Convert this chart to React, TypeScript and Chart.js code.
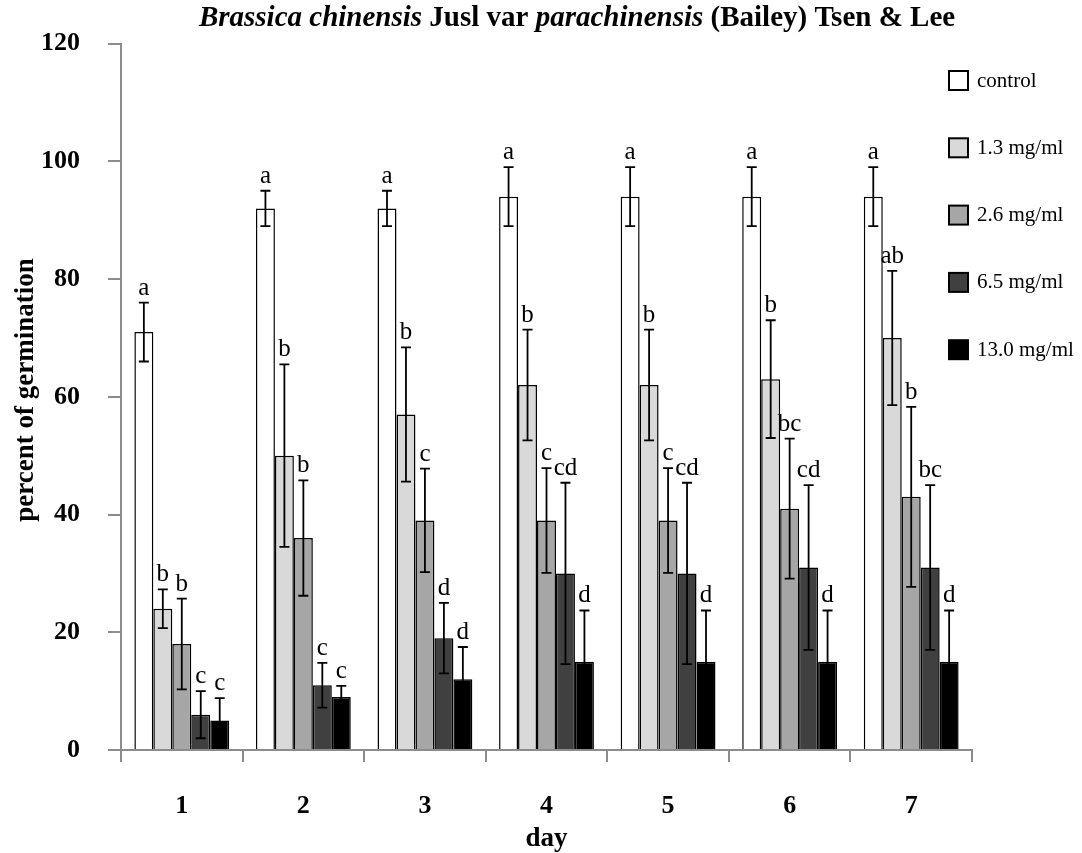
import { useEffect, useRef } from "react";
import { Chart, registerables } from "chart.js";

Chart.register(...registerables);

// Germination by day, five treatments
const days = ["1", "2", "3", "4", "5", "6", "7"];
const seriesNames = ["control", "1.3 mg/ml", "2.6 mg/ml", "6.5 mg/ml", "13.0 mg/ml"];

const controlValues = [71, 92, 92, 94, 94, 94, 94];
const dose13Values = [24, 50, 57, 62, 62, 63, 70];
const dose26Values = [18, 36, 39, 39, 39, 41, 43];
const dose65Values = [6, 11, 19, 30, 30, 31, 31];
const dose130Values = [5, 9, 12, 15, 15, 15, 15];

const controlErr = [5, 3, 3, 5, 5, 5, 5];
const dose13Err = [3.3, 15.5, 11.4, 9.4, 9.4, 10, 11.4];
const dose26Err = [7.7, 9.8, 8.8, 8.9, 8.9, 11.9, 15.3];
const dose65Err = [4, 3.8, 6, 15.4, 15.4, 14, 14];
const dose130Err = [3.8, 1.9, 5.5, 8.7, 8.7, 8.7, 8.7];

const controlLetters = ["a", "a", "a", "a", "a", "a", "a"];
const dose13Letters = ["b", "b", "b", "b", "b", "b", "ab"];
const dose26Letters = ["b", "b", "c", "c", "c", "bc", "b"];
const dose65Letters = ["c", "c", "d", "cd", "cd", "cd", "bc"];
const dose130Letters = ["c", "c", "d", "d", "d", "d", "d"];

const yTicks = [0, 20, 40, 60, 80, 100, 120];

const fills = ["#ffffff", "#d9d9d9", "#a6a6a6", "#404040", "#000000"];
const values = [controlValues, dose13Values, dose26Values, dose65Values, dose130Values];
const errors = [controlErr, dose13Err, dose26Err, dose65Err, dose130Err];
const letters = [controlLetters, dose13Letters, dose26Letters, dose65Letters, dose130Letters];

const SERIF = '"Liberation Serif", "Times New Roman", serif';
const AXIS_GRAY = "#8c8c8c";

const titleParts: [string, boolean][] = [
  ["Brassica chinensis", true],
  [" Jusl var ", false],
  ["parachinensis", true],
  [" (Bailey) Tsen & Lee", false],
];

const decorations = {
  id: "decorations",
  afterDatasetsDraw(chart: any) {
    const ctx = chart.ctx;
    const yScale = chart.scales.y;
    chart.data.datasets.forEach((ds: any, di: number) => {
      const meta = chart.getDatasetMeta(di);
      meta.data.forEach((el: any, i: number) => {
        const v = ds.data[i];
        const e = errors[di][i];
        const top = yScale.getPixelForValue(v + e);
        const bot = yScale.getPixelForValue(v - e);
        ctx.save();
        ctx.strokeStyle = "#000";
        ctx.lineWidth = 1.8;
        ctx.beginPath();
        ctx.moveTo(el.x, top);
        ctx.lineTo(el.x, bot);
        ctx.moveTo(el.x - 5, top);
        ctx.lineTo(el.x + 5, top);
        ctx.moveTo(el.x - 5, bot);
        ctx.lineTo(el.x + 5, bot);
        ctx.stroke();
        ctx.fillStyle = "#000";
        ctx.font = `25px ${SERIF}`;
        ctx.textAlign = "center";
        ctx.textBaseline = "alphabetic";
        ctx.fillText(letters[di][i], el.x, top - 8);
        ctx.restore();
      });
    });
  },
  afterDraw(chart: any) {
    const ctx = chart.ctx;
    const area = chart.chartArea;
    ctx.save();
    ctx.fillStyle = "#000";

    // title with italic species names
    const fontFor = (it: boolean) => `${it ? "italic " : ""}bold 29px ${SERIF}`;
    let total = 0;
    titleParts.forEach(([t, it]) => {
      ctx.font = fontFor(it);
      total += ctx.measureText(t).width;
    });
    let x = 577 - total / 2;
    ctx.textAlign = "left";
    ctx.textBaseline = "alphabetic";
    titleParts.forEach(([t, it]) => {
      ctx.font = fontFor(it);
      ctx.fillText(t, x, 26);
      x += ctx.measureText(t).width;
    });

    // axis titles
    ctx.font = `bold 27px ${SERIF}`;
    ctx.textAlign = "center";
    ctx.textBaseline = "middle";
    ctx.fillText("day", (area.left + area.right) / 2, 839);
    ctx.save();
    ctx.translate(26, 390);
    ctx.rotate(-Math.PI / 2);
    ctx.fillText("percent of germination", 0, 0);
    ctx.restore();

    // legend
    ctx.font = `21px ${SERIF}`;
    ctx.textAlign = "left";
    seriesNames.forEach((name, i) => {
      const cy = 81 + i * 67.3;
      ctx.fillStyle = fills[i];
      ctx.fillRect(949, cy - 10, 19, 19);
      ctx.strokeStyle = "#000";
      ctx.lineWidth = 2;
      ctx.strokeRect(949, cy - 10, 19, 19);
      ctx.fillStyle = "#000";
      ctx.fillText(name, 977, cy);
    });
    ctx.restore();
  },
};

export default function App() {
  const ref = useRef<HTMLCanvasElement | null>(null);

  useEffect(() => {
    if (!ref.current) return;
    const chart = new Chart(ref.current, {
      type: "bar",
      data: {
        labels: days,
        datasets: seriesNames.map((name, i) => ({
          label: name,
          data: values[i],
          backgroundColor: fills[i],
          borderColor: "#000",
          borderWidth: 1.5,
          barPercentage: 1,
          categoryPercentage: 0.78,
        })),
      },
      options: {
        responsive: false,
        animation: false,
        layout: { padding: { left: 0, top: 31, right: 110, bottom: 0 } },
        plugins: {
          legend: { display: false },
          title: { display: false },
          tooltip: { enabled: false },
        },
        scales: {
          x: {
            type: "category",
            offset: true,
            grid: {
              offset: true,
              drawOnChartArea: false,
              drawTicks: true,
              tickLength: 12,
              color: AXIS_GRAY,
              lineWidth: 2,
            },
            border: { display: true, color: AXIS_GRAY, width: 2 },
            ticks: {
              color: "#000",
              font: { family: SERIF, size: 26, weight: "bold" },
              padding: 29,
              maxRotation: 0,
            },
            afterFit: (s: any) => {
              s.height = 103;
            },
          },
          y: {
            min: 0,
            max: 120,
            afterBuildTicks: (s: any) => {
              s.ticks = yTicks.map((v) => ({ value: v }));
            },
            grid: {
              drawOnChartArea: false,
              drawTicks: true,
              tickLength: 13,
              color: AXIS_GRAY,
              lineWidth: 2,
            },
            border: { display: true, color: AXIS_GRAY, width: 2 },
            ticks: {
              color: "#000",
              font: { family: SERIF, size: 26, weight: "bold" },
              padding: 28,
            },
            afterFit: (s: any) => {
              s.width = 121;
            },
          },
        },
      },
      plugins: [decorations],
    } as any);
    return () => chart.destroy();
  }, []);

  return (
    <div style={{ position: "fixed", left: 0, top: 0, width: 1082, height: 853, background: "#fff" }}>
      <canvas ref={ref} width={1082} height={853} />
    </div>
  );
}
